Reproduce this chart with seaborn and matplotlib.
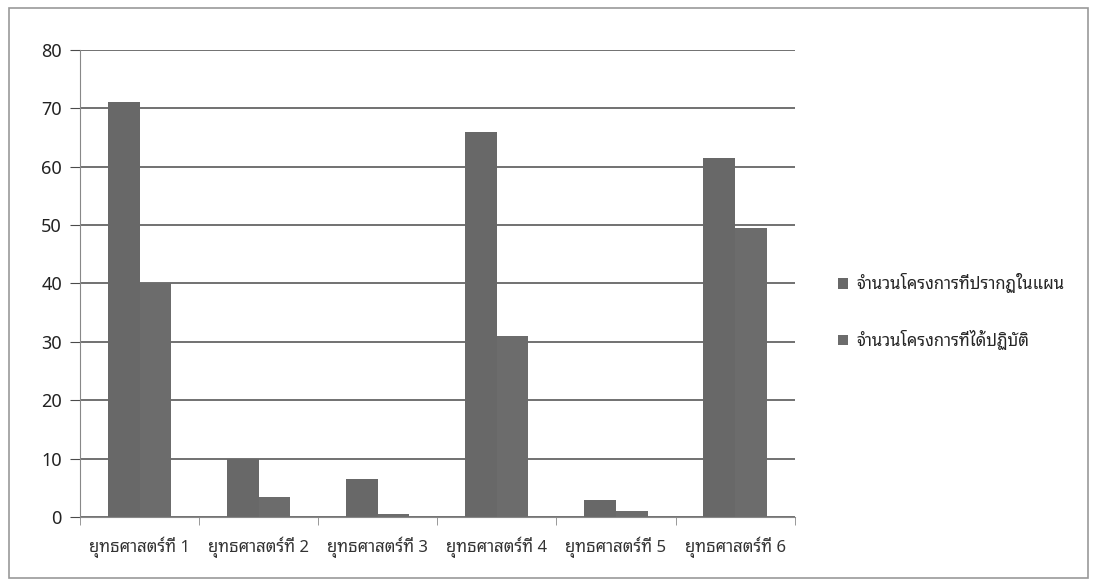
import matplotlib
matplotlib.use('Agg')
import matplotlib.pyplot as plt
import seaborn as sns
import pandas as pd

categories = ['ยุทธศาสตร์ที่ 1', 'ยุทธศาสตร์ที่ 2', 'ยุทธศาสตร์ที่ 3',
              'ยุทธศาสตร์ที่ 4', 'ยุทธศาสตร์ที่ 5', 'ยุทธศาสตร์ที่ 6']
planned = [71, 10, 6.5, 66, 3, 61.5]
done = [40, 3.5, 0.5, 31, 1, 49.5]
series_names = ['จำนวนโครงการที่ปรากฏในแผน', 'จำนวนโครงการที่ได้ปฏิบัติ']

df = pd.DataFrame({
    'cat': categories * 2,
    'value': planned + done,
    'series': [series_names[0]] * 6 + [series_names[1]] * 6,
})

sns.set_style('white')
plt.rcParams['font.family'] = ['Noto Sans Thai Looped', 'Noto Sans', 'DejaVu Sans']

fig = plt.figure(figsize=(10.96, 5.85), dpi=100)
ax = fig.add_axes([0.073, 0.116, 0.652, 0.799])
sns.barplot(data=df, x='cat', y='value', hue='series', ax=ax,
            palette=['#686868', '#6c6c6c'], width=0.53, saturation=1,
            edgecolor='none', linewidth=0)

ax.set_ylim(0, 80)
ax.set_xlim(-0.5, 5.5)
ax.set_yticks(range(0, 81, 10))
ax.yaxis.grid(True, color='#4a4a4a', linewidth=1.1)
ax.set_axisbelow(True)
ax.set_xlabel('')
ax.set_ylabel('')
for s in ['top', 'right']:
    ax.spines[s].set_visible(False)
ax.spines['left'].set_color('#888888')
ax.spines['bottom'].set_color('#888888')
ax.tick_params(axis='y', left=True, labelsize=13, colors='#222222', length=7,
               color='#4a4a4a', pad=6)
ax.set_xticks(range(6))
ax.set_xticklabels(categories)
ax.tick_params(axis='x', which='major', labelsize=12, colors='#333333', length=0, pad=14)
ax.set_xticks([i - 0.5 for i in range(7)], minor=True)
ax.tick_params(axis='x', which='minor', bottom=True, length=6, color='#888888')
ax.legend(loc='center left', bbox_to_anchor=(1.04, 0.44), frameon=False,
          fontsize=12, handlelength=0.6, handleheight=0.6, labelspacing=2.2,
          handletextpad=0.5)

fig.patches.append(plt.Rectangle((0.008, 0.012), 0.985, 0.975, transform=fig.transFigure,
                                 fill=False, edgecolor='#999999', linewidth=1.2))
fig.savefig('out.png', dpi=100)
